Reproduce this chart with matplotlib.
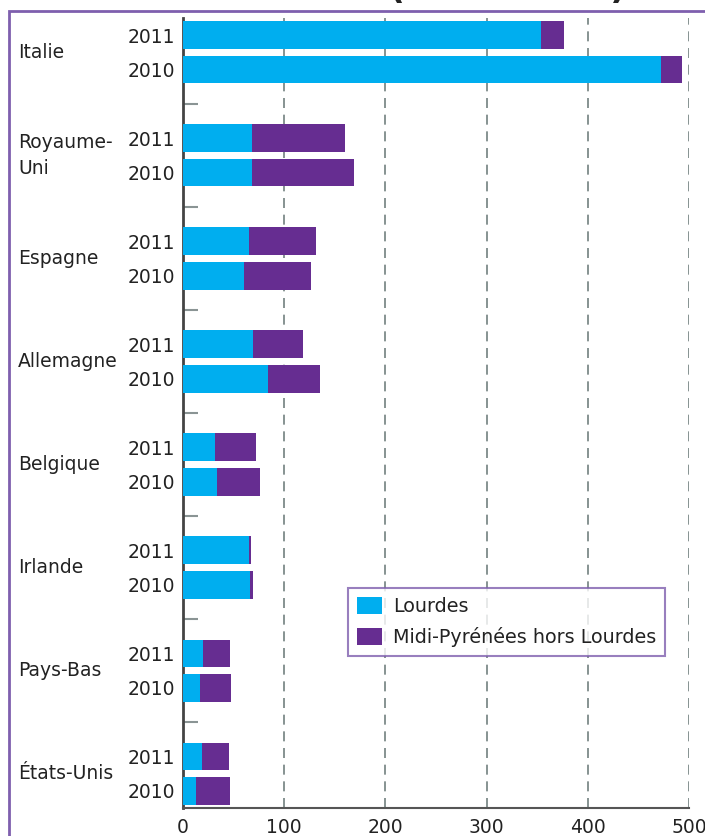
import numpy as np
import matplotlib
matplotlib.use("Agg")
from matplotlib import pyplot as plt
from matplotlib import transforms
from matplotlib.patches import Rectangle

# values (milliers de nuitées)
countries = ["Italie", "Royaume-\nUni", "Espagne", "Allemagne",
             "Belgique", "Irlande", "Pays-Bas", "États-Unis"]
years = ["2011", "2010"]
lourdes_2011 = [354, 68, 65, 69, 32, 65, 20, 19]
lourdes_2010 = [472, 68, 60, 84, 34, 66, 17, 13]
autres_2011 = [22, 92, 66, 50, 40, 2, 26, 26]
autres_2010 = [21, 101, 66, 51, 42, 3, 30, 33]
xticks = [0, 100, 200, 300, 400, 500]

cyan = "#00aeef"
purple = "#662d91"
frame_col = "#7e5fae"
grid_col = "#72807f"

plt.rcParams["font.family"] = ["DejaVu Sans"]
fig = plt.figure(figsize=(7.05, 8.36), dpi=100)
W, H = 705, 836
ax = fig.add_axes([183 / W, 1 - 808 / H, (689 - 183) / W, (808 - 18) / H])

# slots: 2011, 2010, gap for every country
n = len(countries)
y11 = np.arange(n) * 3
y10 = y11 + 1
h = 0.81
ax.barh(y11, lourdes_2011, height=h, color=cyan, label="Lourdes", zorder=3)
ax.barh(y11, autres_2011, left=lourdes_2011, height=h, color=purple,
        label="Midi-Pyrénées hors Lourdes", zorder=3)
ax.barh(y10, lourdes_2010, height=h, color=cyan, zorder=3)
ax.barh(y10, autres_2010, left=lourdes_2010, height=h, color=purple, zorder=3)

ax.set_xlim(0, 500)
ax.set_ylim(3 * n - 2 + 0.5, -0.5)

ax.set_yticks(np.concatenate([y11, y10]))
ax.set_yticklabels([years[0]] * n + [years[1]] * n, fontsize=13.5, color="#222222")
ax.tick_params(axis="y", which="major", length=0, pad=6)
ax.set_yticks(y11[:-1] + 2, minor=True)
ax.tick_params(axis="y", which="minor", direction="in", length=11,
               width=1.5, color="#8a9494")

ax.set_xticks(xticks)
ax.set_xticklabels([str(v) for v in xticks], fontsize=13.5, color="#222222")
ax.tick_params(axis="x", length=0, pad=7)

ax.grid(axis="x", color=grid_col, linestyle=(0, (6, 4)), linewidth=1.2, zorder=0)
for s in ["top", "right"]:
    ax.spines[s].set_visible(False)
ax.spines["left"].set_color("#444444")
ax.spines["left"].set_linewidth(2)
ax.spines["bottom"].set_color("#555555")
ax.spines["bottom"].set_linewidth(1.5)

# country names at the left of the frame
tr = transforms.blended_transform_factory(fig.transFigure, ax.transData)
for i, c in enumerate(countries):
    ax.text(18 / W, y11[i] + 0.5, c, transform=tr, ha="left", va="center",
            fontsize=13.5, color="#222222", linespacing=1.5)

leg = ax.legend(loc="upper left", bbox_to_anchor=(348 / W, 1 - 588 / H),
                bbox_transform=fig.transFigure, fontsize=13.8, frameon=True,
                fancybox=False, borderaxespad=0, handlelength=1.3,
                handleheight=1.0, handletextpad=0.6, borderpad=0.45,
                labelspacing=0.6)
leg.get_frame().set_edgecolor(frame_col)
leg.get_frame().set_linewidth(1.5)
for t in leg.get_texts():
    t.set_color("#222222")

# purple frame (runs past right and bottom edge)
fig.patches.append(Rectangle((8.5 / W, -0.1), 1.2, 1 - 11.5 / H + 0.1,
                             transform=fig.transFigure, fill=False,
                             edgecolor=frame_col, linewidth=2))

# title, mostly above the top edge: only the foot of the brackets shows
fig.text(508 / W, 1 + 2 / H, "(en milliers)", ha="center",
         va="baseline", fontsize=25, fontweight="bold", color="#222222")

fig.savefig("out.png", dpi=100)
